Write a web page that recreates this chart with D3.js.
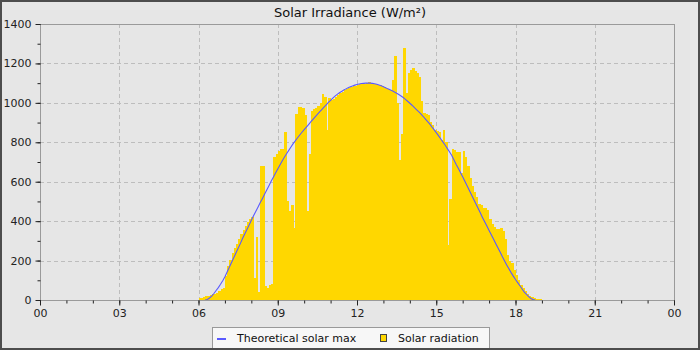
<!DOCTYPE html>
<html>
<head>
<meta charset="utf-8">
<script src="https://cdn.jsdelivr.net/npm/d3@7"></script>
<style>
  html, body { margin: 0; padding: 0; background: #e6e6e6; }
  svg { display: block; font-family: "DejaVu Sans", sans-serif; }
</style>
</head>
<body>
<svg id="chart" width="700" height="350"></svg>
<script>
// ---- DATA ----
const chartTitle = "Solar Irradiance (W/m\u00b2)";
const xTickHours = [0, 3, 6, 9, 12, 15, 18, 21, 24];
const xTickLabels = ["00", "03", "06", "09", "12", "15", "18", "21", "00"];
const yTicks = [0, 200, 400, 600, 800, 1000, 1200, 1400];
const seriesNames = ["Theoretical solar max", "Solar radiation"];

// Solar radiation, 5-minute bins starting 06:00 (one row per hour)
const radiationStartHour = 6;
const stepMinutes = 5;
const radiation = [
  8, 12, 15, 18, 20, 24, 28, 32, 38, 44, 55, 62,                 // 06
  120, 175, 205, 240, 265, 285, 310, 335, 355, 375, 395, 410,    // 07
  420, 110, 320, 40, 680, 680, 70, 60, 75, 80, 725, 740,         // 08
  755, 765, 765, 850, 500, 450, 480, 365, 945, 978, 980, 975,    // 09
  940, 450, 740, 960, 968, 975, 985, 1000, 1045, 1030, 862, 1025,// 10
  1015, 1022, 1032, 1041, 1049, 1056, 1063, 1069, 1075, 1080, 1084, 1088, // 11
  1091, 1094, 1096, 1098, 1099, 1105, 1099, 1097, 1095, 1092, 1089, 1085, // 12
  1080, 1075, 1069, 1065, 1115, 1238, 1000, 710, 840, 1277, 1050, 1150,   // 13
  1167, 1175, 1160, 1150, 1130, 1010, 950, 945, 938, 905, 890, 860,       // 14
  858, 850, 811, 862, 800, 279, 510, 765, 760, 750, 750, 645,    // 15
  756, 725, 680, 620, 578, 550, 520, 486, 480, 469, 465, 455,    // 16
  410, 385, 368, 358, 360, 365, 350, 310, 230, 200, 186, 150,    // 17
  125, 101, 78, 60, 47, 28, 22, 17, 9, 7, 5, 4                   // 18
];

// Theoretical clear-sky maximum, 5-minute points starting 06:15
const theoryStartHour = 6.25;
const theoretical = [
  0, 3, 10, 20, 33, 48, 63, 80, 98,                               // 06:15-06:55
  118, 142, 166, 190, 214, 238, 262, 286, 312, 335, 358, 381,     // 07
  404, 427, 449, 471, 493, 514, 536, 558, 580, 602, 623, 644,     // 08
  665, 685, 705, 724, 742, 759, 776, 793, 808, 823, 837, 851,     // 09
  864, 877, 890, 903, 916, 929, 942, 954, 966, 978, 990, 1002,    // 10
  1013, 1024, 1034, 1043, 1051, 1058, 1065, 1071, 1077, 1082, 1086, 1090, // 11
  1093, 1096, 1098, 1099, 1100, 1100, 1100, 1099, 1097, 1094, 1091, 1087, // 12
  1082, 1077, 1071, 1066, 1061, 1055, 1049, 1042, 1035, 1027, 1018, 1008, // 13
  998, 988, 977, 966, 955, 944, 932, 919, 906, 893, 878, 864,     // 14
  849, 834, 818, 802, 786, 769, 752, 734, 712, 689, 668, 647,     // 15
  625, 602, 580, 557, 534, 511, 488, 465, 442, 419, 397, 375,     // 16
  353, 331, 309, 287, 265, 243, 221, 199, 178, 158, 139, 121,     // 17
  104, 88, 72, 56, 40, 28, 17, 8, 2, 0                            // 18:00-18:45
];

// ---- CHART ----
const W = 700, H = 350;
const plot = { left: 40, right: 674, top: 24, bottom: 300 };
const svg = d3.select("#chart");

svg.append("rect").attr("x", 0).attr("y", 0).attr("width", W).attr("height", H)
  .attr("fill", "#e6e6e6");

const x = d3.scaleLinear().domain([0, 24]).range([plot.left, plot.right]);
const y = d3.scaleLinear().domain([0, 1400]).range([plot.bottom, plot.top]);

// grid
const grid = svg.append("g").attr("stroke", "#bdbdbd").attr("stroke-dasharray", "4,3")
  .attr("shape-rendering", "crispEdges");
grid.selectAll("line.v").data(xTickHours.slice(1, -1)).join("line")
  .attr("x1", d => Math.round(x(d)) + 0.5).attr("x2", d => Math.round(x(d)) + 0.5)
  .attr("y1", plot.top).attr("y2", plot.bottom);
grid.selectAll("line.h").data(yTicks.slice(1, -1)).join("line")
  .attr("x1", plot.left).attr("x2", plot.right)
  .attr("y1", d => Math.round(y(d)) + 0.5).attr("y2", d => Math.round(y(d)) + 0.5);

// bars
const stepH = stepMinutes / 60;
const radData = radiation.map((v, i) => ({ t: radiationStartHour + i * stepH, v }));
svg.append("g").attr("fill", "#ffd700").attr("shape-rendering", "crispEdges")
  .selectAll("rect").data(radData).join("rect")
  .attr("x", d => x(d.t))
  .attr("width", d => x(d.t + stepH) - x(d.t) + 0.4)
  .attr("y", d => y(d.v))
  .attr("height", d => y(0) - y(d.v));

// theoretical line
const thData = theoretical.map((v, i) => ({ t: theoryStartHour + i * stepH, v }));
svg.append("path").datum(thData)
  .attr("fill", "none").attr("stroke", "#5a5aff").attr("stroke-width", 1.1)
  .attr("d", d3.line().x(d => x(d.t)).y(d => y(d.v)));

// plot border
svg.append("rect").attr("x", plot.left + 0.5).attr("y", plot.top + 0.5)
  .attr("width", plot.right - plot.left).attr("height", plot.bottom - plot.top)
  .attr("fill", "none").attr("stroke", "#9a9a9a").attr("shape-rendering", "crispEdges");

// axes
function styleAxis(g) {
  g.select(".domain").remove();
  g.selectAll(".tick line").attr("stroke", "#222");
  g.selectAll(".tick text").attr("fill", "#222").attr("font-size", "11px")
    .attr("font-family", "DejaVu Sans, sans-serif");
}
const minorHours = d3.range(0, 25);
svg.append("g").attr("transform", `translate(0,${plot.bottom + 0.5})`)
  .call(d3.axisBottom(x).tickValues(minorHours).tickSize(3).tickFormat(""))
  .call(styleAxis);
svg.append("g").attr("transform", `translate(0,${plot.bottom + 0.5})`)
  .call(d3.axisBottom(x).tickValues(xTickHours).tickSize(5).tickPadding(4)
    .tickFormat((d, i) => xTickLabels[i]))
  .call(styleAxis);

const minorY = d3.range(0, 1401, 100);
svg.append("g").attr("transform", `translate(${plot.left + 0.5},0)`)
  .call(d3.axisLeft(y).tickValues(minorY).tickSize(3).tickFormat(""))
  .call(styleAxis);
svg.append("g").attr("transform", `translate(${plot.left + 0.5},0)`)
  .call(d3.axisLeft(y).tickValues(yTicks).tickSize(5).tickPadding(4).tickFormat(d3.format("d")))
  .call(styleAxis);

// title
svg.append("text").attr("x", 350).attr("y", 17).attr("text-anchor", "middle")
  .attr("font-size", "13px").attr("fill", "#111").text(chartTitle);

// legend
const lg = svg.append("g");
lg.append("rect").attr("x", 212.5).attr("y", 327.5).attr("width", 277).attr("height", 21)
  .attr("fill", "#f7f7f7").attr("stroke", "#999");
lg.append("line").attr("x1", 217).attr("x2", 226).attr("y1", 339).attr("y2", 339)
  .attr("stroke", "#5a5aff").attr("stroke-width", 2);
lg.append("text").attr("x", 237).attr("y", 342).attr("font-size", "11px").attr("fill", "#111")
  .text(seriesNames[0]);
lg.append("rect").attr("x", 380.5).attr("y", 334.5).attr("width", 6).attr("height", 7)
  .attr("fill", "#ffd700").attr("stroke", "#444");
lg.append("text").attr("x", 398).attr("y", 342).attr("font-size", "11px").attr("fill", "#111")
  .text(seriesNames[1]);

// outer frame
svg.append("rect").attr("x", 1).attr("y", 1).attr("width", W - 2).attr("height", H - 2)
  .attr("fill", "none").attr("stroke", "#4d4d4d").attr("stroke-width", 2);
</script>
</body>
</html>
